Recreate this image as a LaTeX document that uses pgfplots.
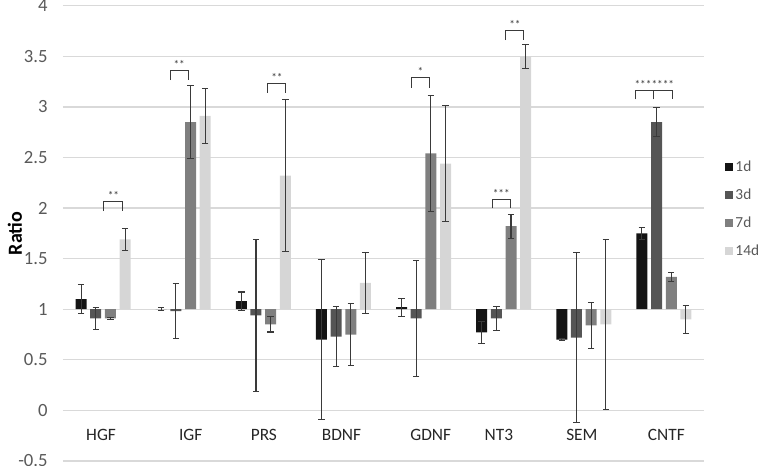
\documentclass[border=0pt]{standalone}
\usepackage{pgfplots}
\usepackage{pgfplotstable}
\pgfplotsset{compat=1.18}
\usepackage{fontspec}
\setmainfont{Carlito}
\definecolor{cA}{HTML}{141414}
\definecolor{cB}{HTML}{555555}
\definecolor{cC}{HTML}{7F7F7F}
\definecolor{cD}{HTML}{D6D6D6}
\definecolor{errc}{HTML}{3A3A3A}
\definecolor{gridc}{HTML}{D9D9D9}
\definecolor{txt}{HTML}{595959}

\pgfplotstableread{
x y e
0 1.10 0.14
1 1.00 0.015
2 1.08 0.09
3 0.70 0.79
4 1.02 0.09
5 0.77 0.107
6 0.70 0.01
7 1.75 0.06
}\dA
\pgfplotstableread{
x y e
0 0.91 0.11
1 0.98 0.27
2 0.94 0.75
3 0.73 0.30
4 0.91 0.575
5 0.91 0.12
6 0.72 0.84
7 2.85 0.14
}\dB
\pgfplotstableread{
x y e
0 0.91 0.01
1 2.85 0.365
2 0.85 0.075
3 0.75 0.305
4 2.54 0.57
5 1.82 0.117
6 0.84 0.23
7 1.32 0.045
}\dC
\pgfplotstableread{
x y e
0 1.69 0.11
1 2.91 0.27
2 2.32 0.75
3 1.26 0.30
4 2.44 0.57
5 3.50 0.12
6 0.85 0.84
7 0.90 0.14
}\dD

\begin{document}
\begin{tikzpicture}
\useasboundingbox (0,0) rectangle (570.75pt,349.5pt);
\begin{axis}[
  at={(47.25pt,3.75pt)}, anchor=south west,
  scale only axis, width=480.75pt, height=341.5pt,
  xmin=-0.5, xmax=7.5, ymin=-0.5, ymax=4,
  enlargelimits=false,
  y coord trafo/.code={\pgfmathparse{#1-1}},
  y coord inv trafo/.code={\pgfmathparse{#1+1}},
  ytick={-0.5,0,0.5,1,1.5,2,2.5,3,3.5,4},
  yticklabels={-0.5,0,0.5,1,1.5,2,2.5,3,3.5,4},
  xtick=\empty,
  axis line style={draw=none},
  major tick length=0pt,
  ymajorgrids, grid style={gridc, line width=1pt},
  yticklabel style={font=\fontsize{14}{16}\selectfont, text=txt, xshift=-8pt},
  ylabel={\textbf{Ratio}},
  every axis y label/.style={at={(-0.0749,0.5)}, rotate=90, anchor=center,
    font=\fontsize{15}{17}\selectfont, text=black},
  ybar, bar width=8.25pt,
  clip=false,
  legend style={at={(1.030,0.668)}, anchor=north west, draw=none, fill=none,
    font=\fontsize{11.5}{13}\selectfont, text=txt, row sep=7.5pt, inner sep=1pt,
    /tikz/every even column/.append style={column sep=0pt}},
  legend cell align=left,
  legend image code/.code={\fill[#1] (0pt,-3pt) rectangle (6pt,3pt);},
  error bars/y dir=both, error bars/y explicit,
  error bars/error bar style={errc, line width=0.8pt},
  error bars/error mark options={errc, line width=0.8pt, mark size=2.4pt, rotate=90},
]
\addplot[fill=cA, draw=none, bar shift=-16.5pt] table[x=x, y=y, y error=e] {\dA};
\addplot[fill=cB, draw=none, bar shift=-5.5pt] table[x=x, y=y, y error=e] {\dB};
\addplot[fill=cC, draw=none, bar shift=5.5pt] table[x=x, y=y, y error=e] {\dC};
\addplot[fill=cD, draw=none, bar shift=16.5pt] table[x=x, y=y, y error=e] {\dD};
\legend{1d,3d,7d,14d}

% category labels
\begin{scope}[every node/.style={font=\fontsize{13}{15}\selectfont, text=black!85}]
\node at (axis cs:-0.025,-0.246) {HGF};
\node at (axis cs:1.094,-0.246) {IGF};
\node at (axis cs:2.007,-0.246) {PRS};
\node at (axis cs:2.976,-0.246) {BDNF};
\node at (axis cs:4.09,-0.246) {GDNF};
\node at (axis cs:4.94,-0.246) {NT3};
\node at (axis cs:5.976,-0.246) {SEM};
\node at (axis cs:7.03,-0.246) {CNTF};
\end{scope}
% significance brackets
\begin{scope}[errc, line width=0.7pt]
\draw (axis cs:0.009,1.969) -- (axis cs:0.009,2.061) -- (axis cs:0.24,2.061) -- (axis cs:0.24,1.969);
\draw (axis cs:0.835,3.265) -- (axis cs:0.835,3.357) -- (axis cs:1.069,3.357) -- (axis cs:1.069,3.265);
\draw (axis cs:2.054,3.137) -- (axis cs:2.054,3.232) -- (axis cs:2.282,3.232) -- (axis cs:2.282,3.137);
\draw (axis cs:3.845,3.19) -- (axis cs:3.845,3.295) -- (axis cs:4.078,3.295) -- (axis cs:4.078,3.19);
\draw (axis cs:4.854,1.996) -- (axis cs:4.854,2.088) -- (axis cs:5.083,2.088) -- (axis cs:5.083,1.996);
\draw (axis cs:5.025,3.66) -- (axis cs:5.025,3.757) -- (axis cs:5.253,3.757) -- (axis cs:5.253,3.66);
\draw (axis cs:6.642,3.074) -- (axis cs:6.642,3.166) -- (axis cs:7.107,3.166) -- (axis cs:7.107,3.074);
\draw (axis cs:6.87,3.074) -- (axis cs:6.87,3.166);
\end{scope}
\begin{scope}[every node/.style={font=\fontsize{8.5}{10}\selectfont, text=errc, inner sep=0pt}]
\node at (axis cs:0.13,2.12) {**};
\node at (axis cs:0.95,3.42) {**};
\node at (axis cs:2.17,3.29) {**};
\node at (axis cs:3.96,3.35) {*};
\node at (axis cs:4.97,2.145) {***};
\node at (axis cs:5.14,3.815) {**};
\node at (axis cs:6.88,3.225) {*******};
\end{scope}
\end{axis}
\end{tikzpicture}
\end{document}
